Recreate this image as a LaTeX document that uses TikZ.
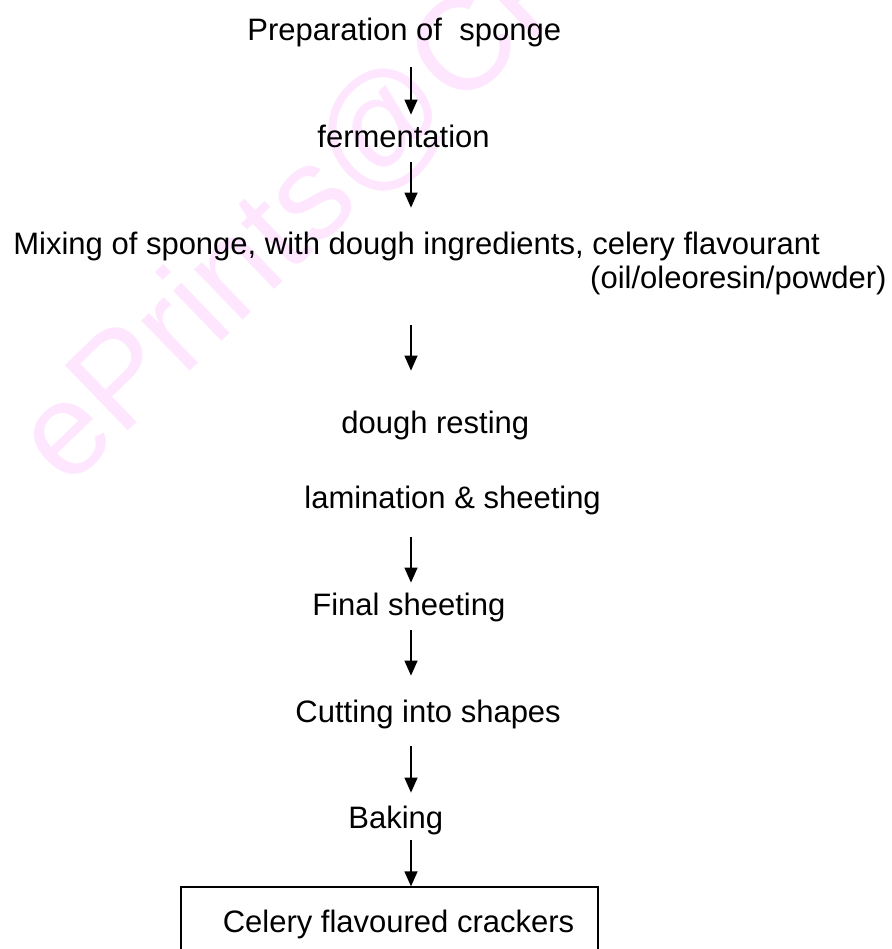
\documentclass[tikz,border=0pt]{standalone}
\usepackage{fontspec}
\setmainfont{Liberation Sans}
\usetikzlibrary{arrows.meta}
\definecolor{wmark}{RGB}{255,230,255}

\begin{document}
\begin{tikzpicture}[x=0.5pt,y=-0.5pt,
        stage/.style={inner sep=0pt, text height=11.2pt, text depth=0pt, font=\fontsize{15.5}{18}\selectfont},
        flow/.style={line width=0.65pt, -{Triangle[length=7.5pt,width=6.5pt]}},
        result/.style={stage, draw, line width=0.65pt, minimum width=208.5pt, minimum height=34pt}]
        \useasboundingbox (0,0) rectangle (892,949);
        \clip (0,0) rectangle (892,949);

        % watermark
        \node[anchor=base west, rotate=44, inner sep=0pt, text=wmark, font=\fontsize{66}{70}\selectfont] (wm) at (67,490) {ePrints@CFTRI};

        \node[stage, anchor=base west] (prep) at (247,40) {Preparation of\ \ sponge};
        \node[stage, anchor=base west] (ferm) at (317,147) {fermentation};
        \node[stage, anchor=base west] (mix) at (13,254) {Mixing of sponge, with dough ingredients, celery flavourant};
        \node[stage, anchor=base east] (oil) at (887,288) {(oil/oleoresin/powder)};
        \node[stage, anchor=base west] (dough) at (341,433) {dough resting};
        \node[stage, anchor=base west] (lam) at (304,508) {lamination \& sheeting};
        \node[stage, anchor=base west] (final) at (312,615) {Final sheeting};
        \node[stage, anchor=base west] (cut) at (295,722) {Cutting into shapes};
        \node[stage, anchor=base west] (bake) at (348,828) {Baking};
        \node[result] (crackers) at (389.5,921) {\hspace*{9pt}Celery flavoured crackers};

        \coordinate (ax) at (411,0);
        \foreach \a/\b/\s/\e in {prep/ferm/13.5/4.8, ferm/mix/7.5/11.8, oil/dough/18.5/19.8,
                lam/final/14.5/4.8, final/cut/7.5/11.8, cut/bake/12/6.3, bake/crackers/6/0} {
            \draw[flow, shorten <=\s pt, shorten >=\e pt] (\a.south -| ax) -- (\b.north -| ax);
        }
\end{tikzpicture}
\end{document}
